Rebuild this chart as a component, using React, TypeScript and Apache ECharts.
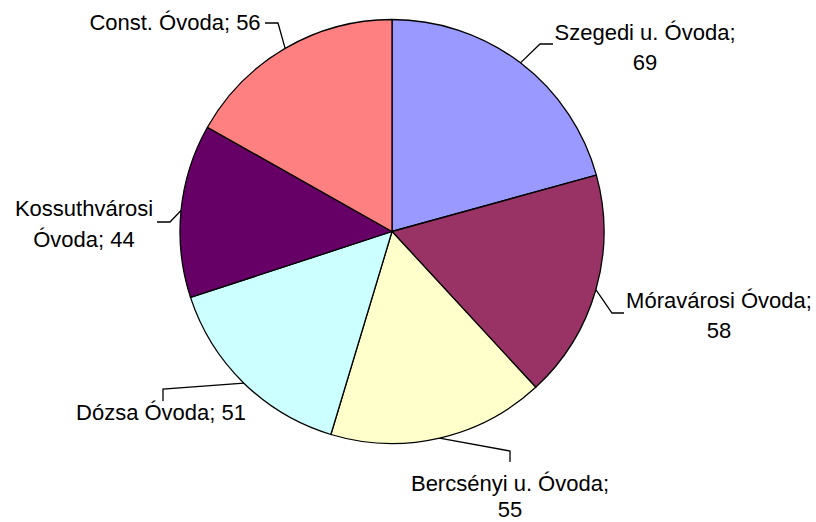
import React, { useEffect, useRef } from "react";
import * as echarts from "echarts";

const categories = [
  "Szegedi u. Óvoda",
  "Móravárosi Óvoda",
  "Bercsényi u. Óvoda",
  "Dózsa Óvoda",
  "Kossuthvárosi Óvoda",
  "Const. Óvoda",
];
const values = [69, 58, 55, 51, 44, 56];
const colors = ["#9999FF", "#993366", "#FFFFCC", "#CCFFFF", "#660066", "#FF8080"];

// label placement (layout only): text centre and leader-line bend points
const labelPos: [number, number][] = [
  [645, 47],
  [719, 315],
  [510, 496],
  [161, 412],
  [84, 224],
  [175, 22],
];
const labelLineHeights = [30, 30, 26, 30, 31, 30];
const bendPts: [number, number][][] = [
  [[540, 44], [553, 44]],
  [[612, 313], [624, 313]],
  [[510, 451], [510, 462]],
  [[163, 389], [163, 401]],
  [[170, 222], [157, 222]],
  [[278, 23], [265, 23]],
];
// how the label text wraps: "value" = break before the value, "name" = break inside the name
const wrapMode = ["value", "value", "value", "none", "name", "none"];

const CX = 392;
const CY = 231.5;
const R = 212;

function labelText(i: number): string {
  const name = categories[i];
  const v = values[i];
  if (wrapMode[i] === "value") return `${name};\n${v}`;
  if (wrapMode[i] === "name") {
    const k = name.lastIndexOf(" ");
    return `${name.slice(0, k)}\n${name.slice(k + 1)}; ${v}`;
  }
  return `${name}; ${v}`;
}

function edgePoint(i: number): [number, number] {
  const total = values.reduce((a, b) => a + b, 0);
  let before = 0;
  for (let k = 0; k < i; k++) before += values[k];
  const mid = ((before + values[i] / 2) / total) * Math.PI * 2;
  return [CX + R * Math.sin(mid), CY - R * Math.cos(mid)];
}

export default function App() {
  const ref = useRef<HTMLDivElement>(null);
  useEffect(() => {
    document.body.style.margin = "0";
    if (!ref.current) return;
    const chart = echarts.init(ref.current, null, { renderer: "svg" });
    chart.setOption({
      animation: false,
      backgroundColor: "#ffffff",
      series: [
        {
          type: "pie",
          center: [CX, CY],
          radius: R,
          startAngle: 90,
          clockwise: true,
          avoidLabelOverlap: false,
          data: categories.map((c, i) => ({
            name: c,
            value: values[i],
            itemStyle: { color: colors[i] },
            label: { lineHeight: labelLineHeights[i] },
          })),
          itemStyle: { borderColor: "#000000", borderWidth: 1.3 },
          emphasis: { disabled: true },
          label: {
            show: true,
            formatter: (p: any) => labelText(p.dataIndex),
            fontFamily: "Liberation Sans, Arial, sans-serif",
            fontSize: 22,
            lineHeight: 30,
            color: "#000000",
            align: "center",
          },
          labelLine: {
            show: true,
            lineStyle: { color: "#000000", width: 1.3 },
            smooth: false,
          },
          labelLayout: (params: any) => {
            const i = params.dataIndex;
            const [x, y] = labelPos[i];
            return {
              x,
              y,
              align: "center",
              verticalAlign: "middle",
              labelLinePoints: [edgePoint(i), ...bendPts[i]],
            };
          },
        },
      ],
    });
    return () => chart.dispose();
  }, []);
  return <div ref={ref} style={{ width: 816, height: 522 }} />;
}
